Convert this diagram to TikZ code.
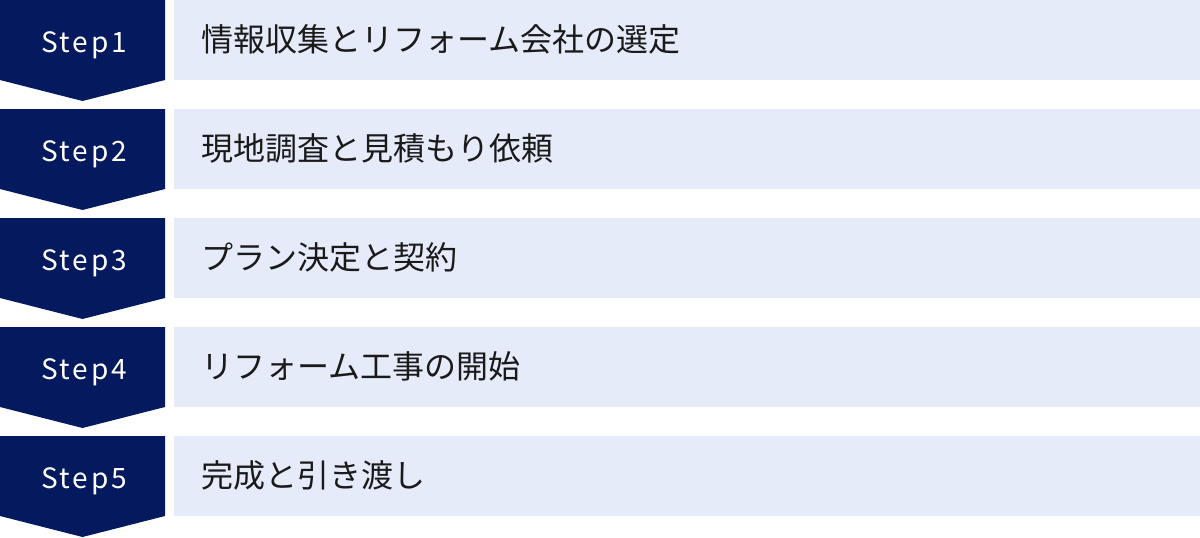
\documentclass[tikz,border=0pt]{standalone}
\usepackage{fontspec}
\setmainfont{Noto Sans CJK JP}
\newfontfamily\stepfont[LetterSpace=10]{Noto Sans CJK JP}
\usetikzlibrary{calc}

\definecolor{stepnavy}{HTML}{05195F}
\definecolor{steppale}{HTML}{E5EBF9}
\definecolor{steptext}{HTML}{1A1A1A}

\tikzset{
  steplabel/.style={text=white, inner sep=0pt, anchor=base, font=\stepfont\fontsize{28}{33}\selectfont},
  tasklabel/.style={text=steptext, inner sep=0pt, anchor=base west, font=\fontsize{32}{38}\selectfont}
}

\begin{document}
\begin{tikzpicture}[x=1pt, y=-1pt]
    \useasboundingbox (0,0) rectangle (1200,538);
    \foreach \i/\txt in {1/情報収集とリフォーム会社の選定, 2/現地調査と見積もり依頼, 3/プラン決定と契約, 4/リフォーム工事の開始, 5/完成と引き渡し} {
      \pgfmathsetmacro{\top}{(\i-1)*109}
      \fill[stepnavy] (0,\top) -- (165,\top) -- (165,\top+80) -- (82.5,\top+101) -- (0,\top+80) -- cycle;
      \fill[steppale] (174,\top) rectangle (1200,\top+80);
      \node[steplabel] (s\i) at (84,\top+52) {Step\i};
      \node[tasklabel] (t\i) at (201,\top+51) {\txt};
    }
  \end{tikzpicture}
\end{document}
